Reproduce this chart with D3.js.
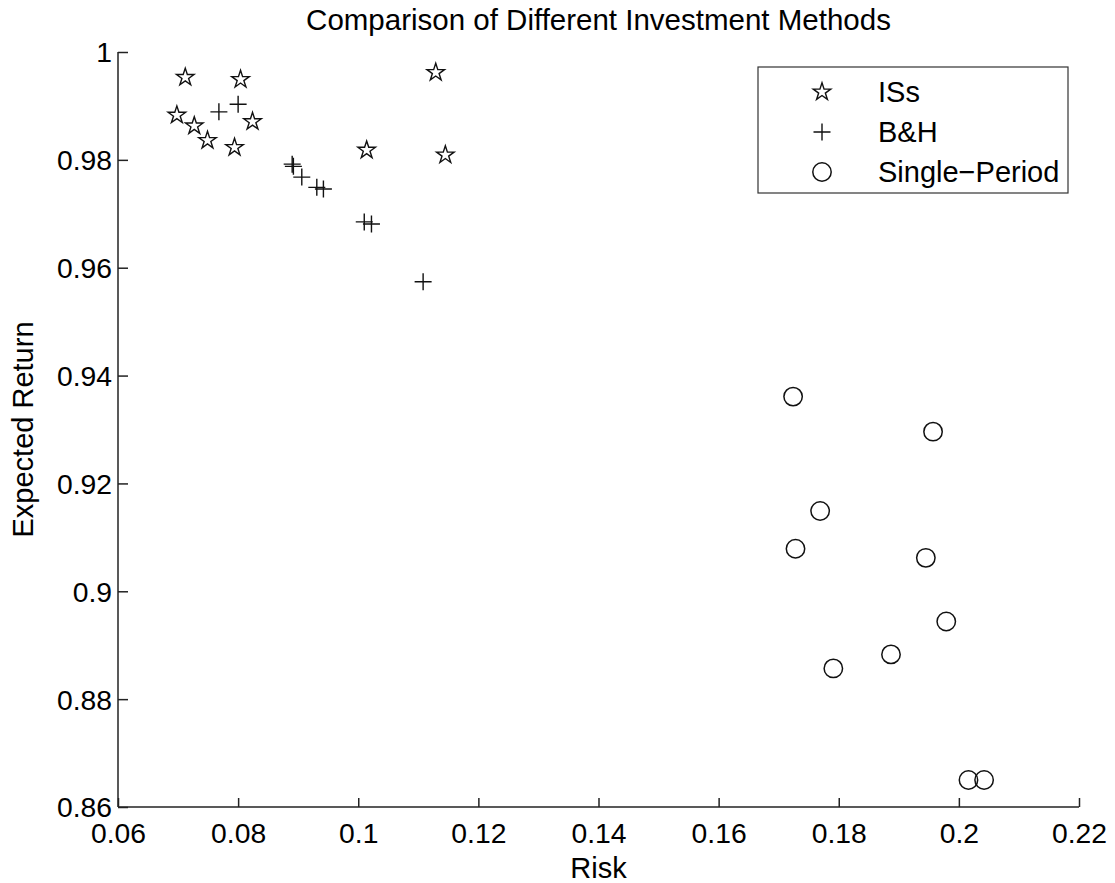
<!DOCTYPE html>
<html>
<head>
<meta charset="utf-8">
<script src="https://cdn.jsdelivr.net/npm/d3@7"></script>
<style>
  html, body { margin: 0; padding: 0; background: #fff; }
  svg { display: block; }
  text { font-family: "Liberation Sans", Arial, Helvetica, sans-serif; fill: #000; }
</style>
</head>
<body>
<svg id="chart" width="1115" height="883"></svg>
<script>
// Risk / expected return of each portfolio, per investment method
const issRisk   = [0.0712, 0.0804, 0.0698, 0.0727, 0.0749, 0.0794, 0.0824, 0.1014, 0.1129, 0.1145];
const issReturn = [0.9953, 0.9949, 0.9883, 0.9863, 0.9836, 0.9823, 0.9871, 0.9818, 0.9962, 0.9809];

const bhRisk    = [0.0768, 0.0800, 0.0890, 0.0892, 0.0906, 0.0931, 0.0942, 0.1010, 0.1022, 0.1108];
const bhReturn  = [0.9889, 0.9903, 0.9792, 0.9788, 0.9768, 0.9749, 0.9746, 0.9685, 0.9681, 0.9574];

const spRisk    = [0.1724, 0.1957, 0.1769, 0.1728, 0.1945, 0.1979, 0.1887, 0.1791, 0.2016, 0.2042];
const spReturn  = [0.9361, 0.9296, 0.9149, 0.9079, 0.9062, 0.8944, 0.8883, 0.8857, 0.8650, 0.8650];

const seriesNames = ["ISs", "B&H", "Single\u2212Period"];
const xTicks = [0.06, 0.08, 0.1, 0.12, 0.14, 0.16, 0.18, 0.2, 0.22];
const yTicks = [0.86, 0.88, 0.9, 0.92, 0.94, 0.96, 0.98, 1];

const svg = d3.select("#chart");
const plotL = 118, plotR = 1079, plotT = 52, plotB = 807;
const TICK_FONT = 28.3, LABEL_FONT = 29, TITLE_FONT = 29.5;

const x = d3.scaleLinear().domain([0.06, 0.22]).range([plotL, plotR]);
const y = d3.scaleLinear().domain([0.86, 1]).range([plotB, plotT]);

// Marker shapes
function starPath(R) {
  const r = R * 0.382;
  const pts = [];
  for (let i = 0; i < 10; i++) {
    const a = -Math.PI / 2 + i * Math.PI / 5;
    const rad = i % 2 === 0 ? R : r;
    pts.push([rad * Math.cos(a), rad * Math.sin(a)]);
  }
  return "M" + pts.map(p => p[0].toFixed(2) + "," + p[1].toFixed(2)).join("L") + "Z";
}
const plusPath = h => `M${-h},0H${h}M0,${-h}V${h}`;
const markers = {
  star:   g => g.append("path").attr("d", starPath(9.2)).attr("fill", "none").attr("stroke", "#111").attr("stroke-width", 1.4).attr("stroke-linejoin", "miter"),
  plus:   g => g.append("path").attr("d", plusPath(8.5)).attr("fill", "none").attr("stroke", "#111").attr("stroke-width", 1.4),
  circle: g => g.append("circle").attr("r", 9.2).attr("fill", "none").attr("stroke", "#111").attr("stroke-width", 1.5)
};

// Axes (left and bottom only, ticks pointing inward)
const xAxis = d3.axisBottom(x).tickValues(xTicks).tickSize(-9).tickPadding(14)
  .tickFormat(d => String(+d.toFixed(2)));
const yAxis = d3.axisLeft(y).tickValues(yTicks).tickSize(-10).tickPadding(16)
  .tickFormat(d => String(+d.toFixed(2)));

const gx = svg.append("g").attr("transform", `translate(0,${plotB})`).call(xAxis);
const gy = svg.append("g").attr("transform", `translate(${plotL},0)`).call(yAxis);
[gx, gy].forEach(g => {
  g.select(".domain").attr("stroke", "#222").attr("stroke-width", 1.5);
  g.selectAll(".tick line").attr("stroke", "#222").attr("stroke-width", 1.5);
  g.selectAll(".tick text").attr("font-size", TICK_FONT).attr("font-family", "Liberation Sans, Arial, sans-serif").attr("fill", "#000");
});
gx.selectAll(".tick text").attr("y", 16).attr("dy", "0.71em");
gy.selectAll(".tick text").attr("x", -6).attr("dy", "0.35em");
// plain axis lines without end caps
gx.select(".domain").attr("d", `M${plotL},0H${plotR}`);
gy.select(".domain").attr("d", `M0,${plotB}V${plotT}`);

// Titles
svg.append("text").attr("x", (plotL + plotR) / 2).attr("y", 30)
  .attr("text-anchor", "middle").attr("font-size", TITLE_FONT)
  .text("Comparison of Different Investment Methods");
svg.append("text").attr("x", (plotL + plotR) / 2).attr("y", 878)
  .attr("text-anchor", "middle").attr("font-size", LABEL_FONT).text("Risk");
svg.append("text").attr("transform", `translate(33,${(plotT + plotB) / 2}) rotate(-90)`)
  .attr("text-anchor", "middle").attr("font-size", LABEL_FONT).text("Expected Return");

// Points
const series = [
  { name: seriesNames[0], risk: issRisk, ret: issReturn, marker: "star" },
  { name: seriesNames[1], risk: bhRisk,  ret: bhReturn,  marker: "plus" },
  { name: seriesNames[2], risk: spRisk,  ret: spReturn,  marker: "circle" }
];
series.forEach(s => {
  const g = svg.append("g").attr("class", "series");
  s.risk.forEach((r, i) => {
    const m = g.append("g").attr("transform", `translate(${x(r)},${y(s.ret[i])})`);
    markers[s.marker](m);
  });
});

// Legend
const legend = svg.append("g").attr("transform", "translate(758,67)");
legend.append("rect").attr("width", 310).attr("height", 126)
  .attr("fill", "#fff").attr("stroke", "#333").attr("stroke-width", 1.2);
series.forEach((s, i) => {
  const row = legend.append("g").attr("transform", `translate(0,${25 + i * 40})`);
  const m = row.append("g").attr("transform", "translate(64,0)");
  markers[s.marker](m);
  row.append("text").attr("x", 120).attr("dy", "0.36em").attr("font-size", LABEL_FONT).text(s.name);
});
</script>
</body>
</html>
